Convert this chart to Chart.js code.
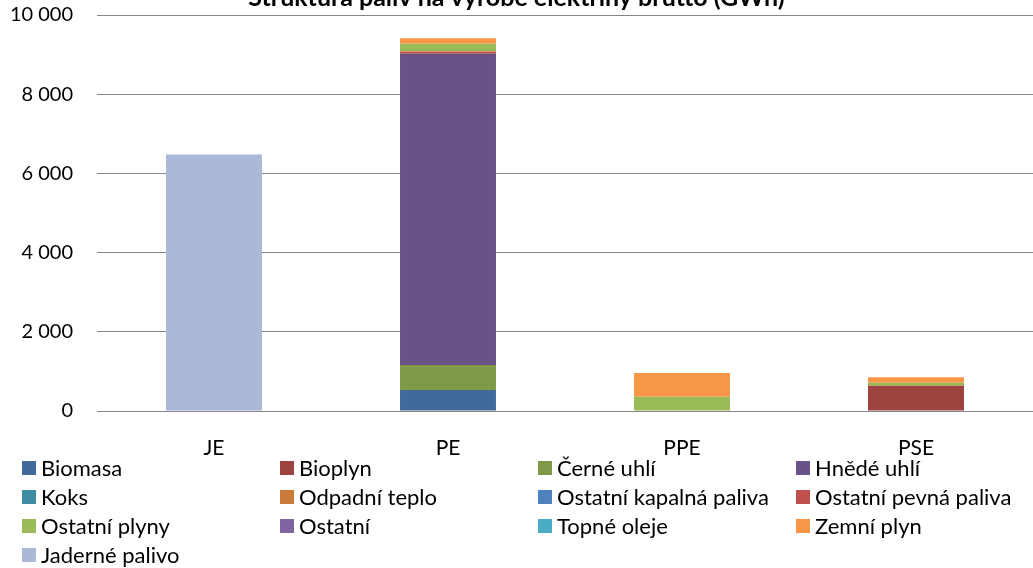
<!DOCTYPE html>
<html>
<head>
<meta charset="utf-8">
<script src="https://cdn.jsdelivr.net/npm/chart.js@4.4.0/dist/chart.umd.min.js"></script>
<style>
  body { margin: 0; background: #fff; overflow: hidden; font-family: Lato, sans-serif; }
  #wrap { position: relative; width: 1033px; height: 568px; }
  #chartBox { position: absolute; left: 0; top: 0; width: 1033px; height: 460px; }
  #legend { position: absolute; left: 22px; top: 453px; display: grid;
            grid-template-columns: repeat(4, 258px); grid-auto-rows: 29px;
            font-size: 22px; color: #000; }
  .item { display: flex; align-items: center; white-space: nowrap; }
  .swatch { width: 14px; height: 14px; margin-right: 5px; flex: none; }
</style>
</head>
<body>
<div id="wrap">
  <div id="chartBox"><canvas id="fuelChart"></canvas></div>
  <div id="legend"></div>
</div>
<script>
var chartTitle = 'Struktura paliv na výrobě elektřiny brutto (GWh)';
var plants = ['JE', 'PE', 'PPE', 'PSE'];
var yTicks = [0, 2000, 4000, 6000, 8000, 10000];

// GWh per plant type, same order as plants
var biomasa        = [0, 530, 0, 0];
var bioplyn        = [0, 0, 0, 640];
var cerneUhli      = [0, 630, 0, 0];
var hnedeUhli      = [0, 7860, 0, 0];
var koks           = [0, 0, 0, 0];
var odpadniTeplo   = [0, 0, 0, 0];
var ostKapalna     = [0, 0, 0, 0];
var ostPevna       = [0, 60, 0, 0];
var ostPlyny       = [0, 195, 360, 75];
var ostatni        = [0, 0, 0, 0];
var topneOleje     = [0, 0, 0, 0];
var zemniPlyn      = [0, 135, 600, 135];
var jadernePalivo  = [6480, 0, 0, 0];

var fuelNames = ['Biomasa', 'Bioplyn', 'Černé uhlí', 'Hnědé uhlí', 'Koks', 'Odpadní teplo',
  'Ostatní kapalná paliva', 'Ostatní pevná paliva', 'Ostatní plyny', 'Ostatní',
  'Topné oleje', 'Zemní plyn', 'Jaderné palivo'];
var fuelValues = [biomasa, bioplyn, cerneUhli, hnedeUhli, koks, odpadniTeplo,
  ostKapalna, ostPevna, ostPlyny, ostatni, topneOleje, zemniPlyn, jadernePalivo];
var fuelColors = ['#416A9B', '#9E423F', '#7F9949', '#695285', '#3E8DA2', '#CB7B39',
  '#4F81BD', '#C0504D', '#9BBB59', '#8064A2', '#4BACC6', '#F79646', '#AAB9D7'];

function spaced(v) {
  return String(v).replace(/\B(?=(\d{3})+(?!\d))/g, ' ');
}

// title sits partly above the canvas edge
const titlePlugin = {
  id: 'cutTitle',
  afterDraw(chart) {
    const ctx = chart.ctx;
    ctx.save();
    ctx.font = 'bold 25px Lato';
    ctx.fillStyle = '#000';
    ctx.textAlign = 'center';
    ctx.textBaseline = 'alphabetic';
    ctx.fillText(chartTitle, chart.width / 2, 6);
    ctx.restore();
  },
};

const datasets = fuelNames.map((name, i) => ({
  label: name,
  data: fuelValues[i],
  backgroundColor: fuelColors[i],
  borderWidth: 0,
  barPercentage: 0.41,
  categoryPercentage: 1,
}));

new Chart(document.getElementById('fuelChart'), {
  type: 'bar',
  data: { labels: plants, datasets: datasets },
  plugins: [titlePlugin],
  options: {
    responsive: true,
    maintainAspectRatio: false,
    animation: false,
    layout: { padding: { top: 15, right: 0, left: 0, bottom: 0 } },
    plugins: { legend: { display: false }, tooltip: { enabled: false } },
    scales: {
      x: {
        stacked: true,
        grid: { display: false, drawTicks: false },
        border: { display: true, color: '#868686', width: 1 },
        ticks: { color: '#000', font: { family: 'Lato', size: 21 }, padding: 25 },
        afterFit: (scale) => { scale.height = 49; },
      },
      y: {
        stacked: true,
        min: 0,
        max: 10000,
        afterBuildTicks: (scale) => { scale.ticks = yTicks.map(v => ({ value: v })); },
        grid: { color: '#868686', lineWidth: 1, drawTicks: false },
        border: { display: false },
        ticks: {
          color: '#000',
          font: { family: 'Lato', size: 20 },
          padding: 24,
          callback: (v) => spaced(v),
        },
        afterFit: (scale) => {
          scale.width = 97;
          scale.paddingTop = 0;
          scale.paddingBottom = 0;
        },
      },
    },
  },
});

// legend in four fixed columns
const legendEl = document.getElementById('legend');
fuelNames.forEach((name, i) => {
  const item = document.createElement('div');
  item.className = 'item';
  item.innerHTML = `<span class="swatch" style="background:${fuelColors[i]}"></span><span>${name}</span>`;
  legendEl.appendChild(item);
});
</script>
</body>
</html>
